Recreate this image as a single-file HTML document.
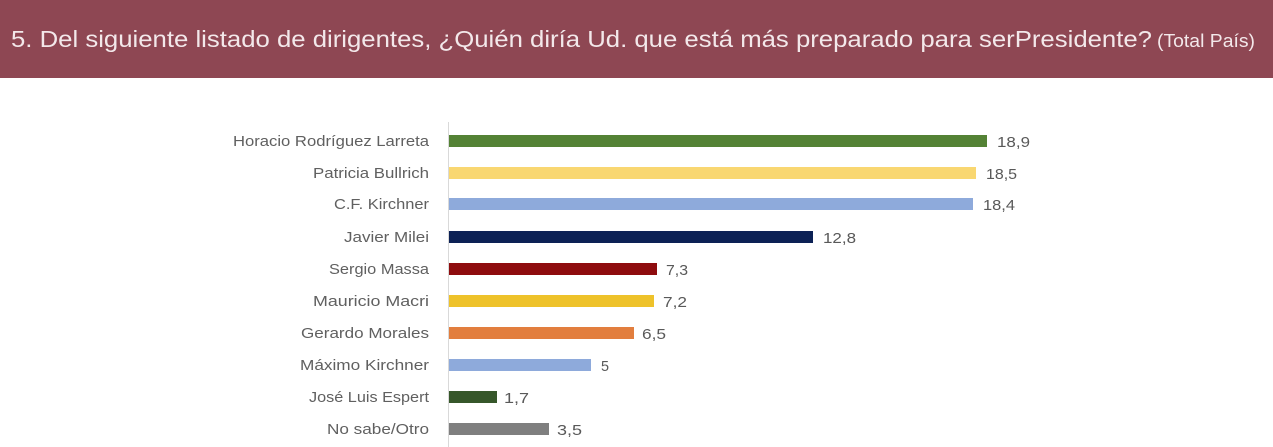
<!DOCTYPE html>
<html>
<head>
<meta charset="utf-8">
<style>
html,body{margin:0;padding:0;background:#fff;}
svg{display:block;}
</style>
</head>
<body>
<svg width="1273" height="447" viewBox="0 0 1273 447" xmlns="http://www.w3.org/2000/svg">
  <rect x="0" y="0" width="1273" height="447" fill="#ffffff"/>
  <rect x="0" y="0" width="1273" height="78" fill="#8e4753"/>
  <text x="11" y="47" font-family="Liberation Sans, sans-serif" font-size="23" fill="#f3e8ea" textLength="1141" lengthAdjust="spacingAndGlyphs">5. Del siguiente listado de dirigentes, ¿Quién diría Ud. que está más preparado para serPresidente?</text>
  <text x="1157" y="47" font-family="Liberation Sans, sans-serif" font-size="18" fill="#f3e8ea" textLength="98" lengthAdjust="spacingAndGlyphs">(Total País)</text>

  <line x1="448.5" y1="122" x2="448.5" y2="447" stroke="#d9d9d9" stroke-width="1"/>

  <g font-family="Liberation Sans, sans-serif" font-size="15" fill="#606060" text-anchor="end">
    <text x="429" y="146" textLength="196" lengthAdjust="spacingAndGlyphs">Horacio Rodríguez Larreta</text>
    <text x="429" y="178" textLength="116" lengthAdjust="spacingAndGlyphs">Patricia Bullrich</text>
    <text x="429" y="209" textLength="95" lengthAdjust="spacingAndGlyphs">C.F. Kirchner</text>
    <text x="429" y="242" textLength="85" lengthAdjust="spacingAndGlyphs">Javier Milei</text>
    <text x="429" y="274" textLength="100" lengthAdjust="spacingAndGlyphs">Sergio Massa</text>
    <text x="429" y="306" textLength="116" lengthAdjust="spacingAndGlyphs">Mauricio Macri</text>
    <text x="429" y="338" textLength="128" lengthAdjust="spacingAndGlyphs">Gerardo Morales</text>
    <text x="429" y="370" textLength="129" lengthAdjust="spacingAndGlyphs">Máximo Kirchner</text>
    <text x="429" y="402" textLength="120" lengthAdjust="spacingAndGlyphs">José Luis Espert</text>
    <text x="429" y="434" textLength="102" lengthAdjust="spacingAndGlyphs">No sabe/Otro</text>
  </g>

  <g>
    <rect x="449" y="135" width="538" height="12" fill="#548235"/>
    <rect x="449" y="167" width="527" height="12" fill="#f9d771"/>
    <rect x="449" y="198" width="524" height="12" fill="#8eaadb"/>
    <rect x="449" y="231" width="364" height="12" fill="#0c2155"/>
    <rect x="449" y="263" width="208" height="12" fill="#8e0c0e"/>
    <rect x="449" y="295" width="205" height="12" fill="#eec22a"/>
    <rect x="449" y="327" width="185" height="12" fill="#e27e3e"/>
    <rect x="449" y="359" width="142" height="12" fill="#8eaadb"/>
    <rect x="449" y="391" width="48" height="12" fill="#36572a"/>
    <rect x="449" y="423" width="100" height="12" fill="#7f7f7f"/>
  </g>

  <g font-family="Liberation Sans, sans-serif" font-size="15" fill="#595959">
    <text x="997" y="147" textLength="33" lengthAdjust="spacingAndGlyphs">18,9</text>
    <text x="986" y="179" textLength="31" lengthAdjust="spacingAndGlyphs">18,5</text>
    <text x="983" y="210" textLength="32" lengthAdjust="spacingAndGlyphs">18,4</text>
    <text x="823" y="243" textLength="33" lengthAdjust="spacingAndGlyphs">12,8</text>
    <text x="666" y="275" textLength="22" lengthAdjust="spacingAndGlyphs">7,3</text>
    <text x="663" y="307" textLength="24" lengthAdjust="spacingAndGlyphs">7,2</text>
    <text x="642" y="339" textLength="24" lengthAdjust="spacingAndGlyphs">6,5</text>
    <text x="601" y="371" textLength="8" lengthAdjust="spacingAndGlyphs">5</text>
    <text x="504" y="403" textLength="25" lengthAdjust="spacingAndGlyphs">1,7</text>
    <text x="557" y="435" textLength="25" lengthAdjust="spacingAndGlyphs">3,5</text>
  </g>
</svg>
</body>
</html>
